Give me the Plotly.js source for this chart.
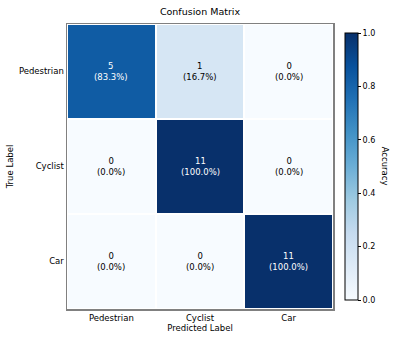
<!DOCTYPE html>
<html>
<head>
<meta charset="utf-8">
<script src="https://cdn.plot.ly/plotly-3.0.1.min.js"></script>
<style>
  html, body { margin: 0; padding: 0; background: #fff; }
  #plot { width: 398px; height: 339px; }
</style>
</head>
<body>
<div id="plot"></div>
<script>
// class labels, rows = true, cols = predicted
var classes = ['Pedestrian', 'Cyclist', 'Car'];
var counts = [
  [5, 1, 0],
  [0, 11, 0],
  [0, 0, 11]
];
var accuracy = [
  [0.833, 0.167, 0.0],
  [0.0, 1.0, 0.0],
  [0.0, 0.0, 1.0]
];

// matplotlib Blues
var blues = [
  [0.0, '#f7fbff'], [0.125, '#deebf7'], [0.25, '#c6dbef'],
  [0.375, '#9ecae1'], [0.5, '#6baed6'], [0.625, '#4292c6'],
  [0.75, '#2171b5'], [0.875, '#08519c'], [1.0, '#08306b']
];

var font = 'DejaVu Sans, sans-serif';

var trace1 = {
  type: 'heatmap',
  x: classes,
  y: classes,
  z: accuracy,
  zmin: 0,
  zmax: 1,
  colorscale: blues,
  xgap: 2,
  ygap: 2,
  hoverinfo: 'skip',
  colorbar: {
    x: 1.045,
    xanchor: 'left',
    xpad: 0,
    y: 0.5,
    yanchor: 'middle',
    ypad: 0,
    len: 0.937,
    thickness: 13,
    outlinecolor: '#000',
    outlinewidth: 1,
    ticks: 'outside',
    ticklen: 3,
    tickwidth: 1,
    tickcolor: '#000',
    tickvals: [0, 0.2, 0.4, 0.6, 0.8, 1.0],
    tickformat: '.1f',
    tickfont: { family: font, size: 8, color: '#000' }
  }
};

var annotations = [];
for (var i = 0; i < classes.length; i++) {
  for (var j = 0; j < classes.length; j++) {
    annotations.push({
      x: classes[j],
      y: classes[i],
      xref: 'x',
      yref: 'y',
      text: counts[i][j] + '<br>(' + (accuracy[i][j] * 100).toFixed(1) + '%)',
      showarrow: false,
      font: { family: font, size: 8.5, color: accuracy[i][j] > 0.5 ? '#fff' : '#000' }
    });
  }
}
// colorbar label, reads top to bottom
annotations.push({
  x: 1.225, xref: 'paper', y: 0.5, yref: 'paper',
  text: 'Accuracy', showarrow: false, textangle: 90,
  font: { family: font, size: 8.5, color: '#000' }
});

var layout = {
  width: 398,
  height: 339,
  margin: { l: 67, r: 65, t: 24, b: 30, autoexpand: false },
  paper_bgcolor: '#fff',
  plot_bgcolor: '#fff',
  font: { family: font, size: 9, color: '#000' },
  title: {
    text: 'Confusion Matrix',
    x: 0.5,
    xref: 'paper',
    y: 0.965,
    yanchor: 'middle',
    font: { family: font, size: 9.5, color: '#000' }
  },
  xaxis: {
    title: { text: 'Predicted Label', font: { size: 8.5 }, standoff: 2 },
    tickfont: { size: 8.5 },
    showline: true, mirror: true, linecolor: '#808080', linewidth: 1.5,
    ticks: '', ticklen: 0, showgrid: false, zeroline: false
  },
  yaxis: {
    title: { text: 'True Label', font: { size: 8.5 }, standoff: 4 },
    tickfont: { size: 8.5 },
    autorange: 'reversed',
    showline: true, mirror: true, linecolor: '#808080', linewidth: 1.5,
    ticks: '', ticklen: 0, showgrid: false, zeroline: false
  },
  annotations: annotations
};

Plotly.newPlot('plot', [trace1], layout, { displayModeBar: false, staticPlot: true });
</script>
</body>
</html>
